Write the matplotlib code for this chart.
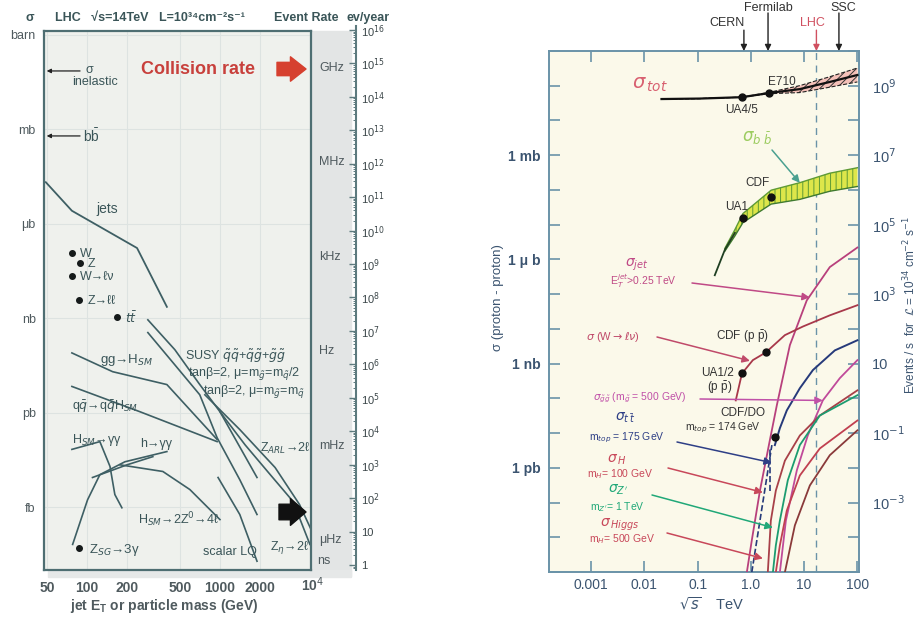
import numpy as np
import matplotlib
matplotlib.use("Agg")
import matplotlib.pyplot as plt
from matplotlib.patches import Rectangle
from matplotlib.ticker import FixedLocator, FixedFormatter, NullLocator, LogLocator, NullFormatter

plt.rcParams['font.family'] = ['Liberation Sans', 'DejaVu Sans']
plt.rcParams['mathtext.fontset'] = 'dejavusans'
plt.rcParams['hatch.linewidth'] = 0.7

W, H = 917, 618

# ---------------- left panel data (mass or jet Et in GeV, sigma in barn)
mass_ticks = [50, 100, 200, 500, 1000, 2000]
sigma_units = ['barn', 'mb', 'μb', 'nb', 'pb', 'fb']
sigma_unit_vals = [1, 1e-3, 1e-6, 1e-9, 1e-12, 1e-15]
rate_units = ['GHz', 'MHz', 'kHz', 'Hz', 'mHz', 'μHz']
rate_unit_vals = [1e9, 1e6, 1e3, 1, 1e-3, 1e-6]
year_exps = list(range(17))

sigma_inel = 0.072
sigma_bb_lhc = 6.2e-4

jets_m = [49, 77, 238, 399]
jets_s = [2.1e-5, 2.6e-6, 1.7e-7, 2.3e-9]

boson_names = ['W', 'Z', 'W→ℓν', 'Z→ℓℓ', r'$t\bar{t}$']
boson_m = [77, 88, 77, 87, 168]
boson_s = [1.2e-7, 5.8e-8, 2.2e-8, 3.9e-9, 1.1e-9]

susyA_m = [287, 458, 705, 1000, 1545, 2390, 3550, 4750]
susyA_s = [8.9e-10, 1.0e-10, 7.8e-12, 1.07e-12, 9.5e-14, 1.07e-14, 1.5e-15, 6.5e-17]
susyB_m = [287, 458, 705, 952, 1410, 1900]
susyB_s = [3.5e-10, 3.3e-11, 3.7e-12, 1.6e-13, 7.4e-15, 5.8e-16]
ggH_m = [77, 156, 399, 952]
ggH_s = [7.9e-11, 2.0e-11, 7.8e-12, 1.4e-13]
qqH_m = [77, 250, 952]
qqH_s = [6.8e-12, 1.07e-12, 1.2e-13]
zarl_m = [1000, 1900]
zarl_s = [1.07e-12, 8.7e-15]
zeta_m = [770, 1410, 2600, 3970, 4840]
zeta_s = [3.7e-12, 2.9e-13, 1.8e-14, 1.2e-15, 1.95e-16]
lq_m = [968, 1410, 1900]
lq_s = [8.7e-15, 5.8e-16, 1.9e-17]
hggSM_m = [77, 125, 149, 162, 183]
hggSM_s = [6.8e-14, 1.2e-13, 1.95e-14, 2.5e-15, 9.5e-16]
hggA_m = [78, 101, 125, 193, 399]
hggA_s = [6.5e-17, 1.7e-15, 1.07e-14, 2.75e-14, 5.8e-14]
hggB_m = [110, 200, 313]
hggB_s = [8.7e-15, 2.2e-14, 4.0e-14]
hzz_m = [177, 372, 594, 1000]
hzz_s = [2.2e-14, 1.35e-14, 3.6e-15, 4.0e-16]
zsg_m, zsg_s = 87, 5.1e-17

# ---------------- right panel data (sqrt(s) in TeV, sigma in barn)
rs_ticks = [1e-3, 1e-2, 1e-1, 1, 10, 100]
rs_labels = ['0.001', '0.01', '0.1', '1.0', '10', '100']
left_units = {-3: '1 mb', -6: '1 μ b', -9: '1 nb', -12: '1 pb'}
evt_ticks = [1e9, 1e7, 1e5, 1e3, 1e1, 1e-1, 1e-3]
evt_labels = ['10$^{9}$', '10$^{7}$', '10$^{5}$', '10$^{3}$', '10', '10$^{-1}$', '10$^{-3}$']

accel_names = ['CERN', 'Fermilab', 'LHC', 'SSC']
accel_rs = [0.74, 2.1, 17, 45]

rs_tot = [0.021, 0.11, 0.68, 2.2, 8.3, 30, 100]
sig_tot = [0.0414, 0.0427, 0.0468, 0.0617, 0.080, 0.128, 0.204]
tot_hw = [0, 0, 0, 0.02, 0.10, 0.15, 0.20]      # band half width, decades
ua45 = (0.68, 0.0468)
e710 = (2.2, 0.0617)

rs_bb = [0.21, 0.325, 0.5, 0.71, 2.4, 8.3, 30, 100]
sig_bb = [3.5e-7, 1.9e-6, 5.8e-6, 1.55e-5, 6.2e-5, 9.3e-5, 1.66e-4, 2.34e-4]
bb_hw = [0, 0.04, 0.09, 0.13, 0.20, 0.24, 0.26, 0.27]
ua1_bb = (0.71, 1.55e-5)
cdf_bb = (2.4, 6.2e-5)

rs_jet = [0.84, 1.04, 1.48, 2.27, 3.07, 5.4, 11.2, 30.3, 100]
sig_jet = [9.8e-16, 8.1e-15, 2.2e-13, 6.2e-12, 6.3e-11, 3.4e-9, 6.6e-8, 6.0e-7, 2.2e-6]

rs_w = [0.52, 0.68, 1.09, 1.91, 4.35, 9.5, 30.3, 100]
sig_w = [8.7e-11, 5.2e-10, 1.26e-9, 2.1e-9, 6.6e-9, 1.17e-8, 2.45e-8, 4.8e-8]
ua12_w = (0.68, 5.2e-10)
cdf_w = (1.91, 2.1e-9)

rs_tt = [2.82, 3.5, 4.73, 6.1, 8.3, 14.6, 37.7, 100]
sig_tt = [4.5e-12, 1.38e-11, 4.5e-11, 8.7e-11, 1.95e-10, 6.5e-10, 2.4e-9, 4.7e-9]
rs_tt_edge = [1.04, 2.48]
sig_tt_edge = [9.8e-16, 4.5e-12]
rs_tt_thr = [2.3, 2.3]
sig_tt_thr = [2.2e-13, 3.9e-12]
cdfd0_tt = (2.82, 7.6e-12)

rs_gg = [3.5, 4.54, 7.3, 11.7, 22.4, 46.7, 100]
sig_gg = [9.8e-16, 3.0e-14, 8.5e-13, 8.5e-12, 8.7e-11, 3.8e-10, 1.26e-9]
rs_h100 = [2.08, 2.37, 2.94, 4.35, 8.3, 19.7, 100]
sig_h100 = [9.8e-16, 3.0e-14, 2.2e-13, 1.6e-12, 8.5e-12, 3.2e-11, 1.7e-10]
rs_zp = [2.59, 2.94, 3.5, 4.94, 8.3, 19.7, 100]
sig_zp = [9.8e-16, 5.8e-15, 3.0e-14, 4.4e-13, 4.5e-12, 3.2e-11, 1.23e-10]
rs_h500 = [2.94, 3.5, 4.73, 8.3, 19.7, 100]
sig_h500 = [9.8e-16, 5.8e-15, 5.9e-14, 6.0e-13, 3.6e-12, 2.3e-11]
rs_x = [4.35, 6.7, 12.8, 30.3, 100]
sig_x = [9.8e-16, 2.2e-14, 3.1e-13, 2.3e-12, 1.2e-11]


def ftext(px, py, s, **kw):
    kw.setdefault('ha', 'center')
    kw.setdefault('va', 'center')
    fig.text(px / W, 1 - py / H, s, **kw)


def band(y, hw):
    y = np.log10(y)
    hw = np.asarray(hw)
    return 10 ** (y - hw), 10 ** (y + hw)


fig = plt.figure(figsize=(W / 100, H / 100), dpi=100)
fig.patch.set_facecolor('white')

# ================= LEFT PANEL =================
lc = '#3e5f64'
tc = '#3a5558'
ax1 = fig.add_axes([44 / W, 1 - 570 / H, 267 / W, 539 / H])
ax1.set_xscale('log')
ax1.set_yscale('log')
ax1.set_xlim(47.5, 4840)
ax1.set_ylim(1e-17, 10 ** 0.127)
ax1.set_facecolor('#eff1ed')
for sp in ax1.spines.values():
    sp.set_color('#4e6e72')
    sp.set_linewidth(1.6)
ax1.xaxis.set_major_locator(FixedLocator(mass_ticks))
ax1.xaxis.set_major_formatter(FixedFormatter([str(m) for m in mass_ticks]))
ax1.xaxis.set_minor_locator(NullLocator())
ax1.yaxis.set_major_locator(FixedLocator(sigma_unit_vals))
ax1.yaxis.set_major_formatter(FixedFormatter(sigma_units))
ax1.yaxis.set_minor_locator(NullLocator())
ax1.tick_params(axis='x', length=0, pad=8, labelsize=10, labelcolor='#4f5a5e')
ax1.tick_params(axis='y', length=0, pad=6, labelsize=9, labelcolor='#4f5a5e')
for t in ax1.get_xticklabels():
    t.set_fontweight('bold')
ax1.grid(True, color='#dde3e1', lw=0.8)

sec1 = ax1.secondary_yaxis('right', functions=(lambda s: s * 1e10, lambda r: r / 1e10))
sec1.yaxis.set_major_locator(FixedLocator(rate_unit_vals))
sec1.yaxis.set_major_formatter(FixedFormatter(rate_units))
sec1.yaxis.set_minor_locator(NullLocator())
sec1.tick_params(length=0, pad=6, labelsize=9, labelcolor='#4f5a5e')
sec1.spines['right'].set_visible(False)

ax1.plot(jets_m, jets_s, color=lc, lw=1.3)
for m, s in [(susyA_m, susyA_s), (susyB_m, susyB_s), (ggH_m, ggH_s), (qqH_m, qqH_s),
             (zarl_m, zarl_s), (zeta_m, zeta_s), (lq_m, lq_s), (hggSM_m, hggSM_s),
             (hggA_m, hggA_s), (hggB_m, hggB_s), (hzz_m, hzz_s)]:
    ax1.plot(m, s, color=lc, lw=1.2)
ax1.plot(boson_m, boson_s, 'o', color='#151a1a', ms=4)
for name, m, s in zip(boson_names, boson_m, boson_s):
    ax1.annotate(name, (m, s), xytext=(6, -1), textcoords='offset points',
                 va='center', fontsize=9, color=tc)
ax1.plot([zsg_m], [zsg_s], 'o', color='#151a1a', ms=4)

arr = dict(arrowstyle='-|>', color='#222', lw=0.9, mutation_scale=6, shrinkA=0, shrinkB=0)
ax1.annotate('', xy=(0.01, sigma_inel), xycoords=('axes fraction', 'data'),
             xytext=(0.135, sigma_inel), textcoords=('axes fraction', 'data'), arrowprops=arr)
ax1.annotate('', xy=(0.01, sigma_bb_lhc), xycoords=('axes fraction', 'data'),
             xytext=(0.135, sigma_bb_lhc), textcoords=('axes fraction', 'data'), arrowprops=arr)

fig.add_artist(Rectangle((311 / W, 1 - 576 / H), 40 / W, 545 / H, transform=fig.transFigure,
                         color='#e3e5e5', zorder=-1))
fig.add_artist(Rectangle((48 / W, 1 - 577 / H), 303 / W, 7 / H, transform=fig.transFigure,
                         color='#e6e8e8', zorder=-1))

# event/year ruler
axr = fig.add_axes([356 / W, 1 - 570 / H, 0.0005, 544 / H])
axr.set_yscale('log')
axr.set_ylim(10 ** -0.15, 10 ** 16.12)
axr.set_facecolor('none')
axr.set_xticks([])
for k in ['top', 'bottom', 'left']:
    axr.spines[k].set_visible(False)
axr.spines['right'].set_color('#5d7a7e')
axr.spines['right'].set_linewidth(1.5)
axr.yaxis.set_major_locator(FixedLocator([10.0 ** k for k in year_exps]))
axr.yaxis.set_major_formatter(FixedFormatter(['1', '10'] + ['10$^{%d}$' % k for k in year_exps[2:]]))
axr.yaxis.set_minor_locator(LogLocator(base=10, subs=np.arange(2, 10), numticks=200))
axr.yaxis.set_minor_formatter(NullFormatter())
axr.tick_params(axis='y', which='major', direction='in', left=False, right=True, labelleft=False,
                labelright=True, length=5, width=1, color='#5d7a7e', labelsize=8, pad=3,
                labelcolor='#3a4548')
axr.tick_params(axis='y', which='minor', direction='in', left=False, right=True, length=2.5,
                width=0.7, color='#5d7a7e')

ftext(30, 18, 'σ', fontsize=9, fontweight='bold', color=tc)
ftext(55, 18, 'LHC   √s=14TeV   L=10³⁴cm⁻²s⁻¹', ha='left', fontsize=9, fontweight='bold', color=tc)
ftext(306, 18, 'Event Rate', fontsize=9, fontweight='bold', color=tc)
ftext(368, 18, 'ev/year', fontsize=9, fontweight='bold', color=tc)
ftext(198, 70, 'Collision rate', fontsize=13, fontweight='bold', color='#c8403c')
ax1.annotate('', xy=(306, H - 69), xycoords='figure pixels', xytext=(277, H - 69),
             textcoords='figure pixels',
             arrowprops=dict(arrowstyle='simple,head_length=0.7,head_width=1.1,tail_width=0.6',
                             color='#d6402f', mutation_scale=16, shrinkA=0, shrinkB=0))
ax1.annotate('', xy=(306, H - 512), xycoords='figure pixels', xytext=(279, H - 512),
             textcoords='figure pixels',
             arrowprops=dict(arrowstyle='simple,head_length=0.7,head_width=1.2,tail_width=0.7',
                             color='#111', mutation_scale=16, shrinkA=0, shrinkB=0))
ftext(85, 70, 'σ', ha='left', fontsize=9, color=tc)
ftext(72, 82, 'inelastic', ha='left', fontsize=9, color=tc)
ftext(83, 136, r'$\mathregular{b\bar{b}}$', ha='left', fontsize=10, color=tc)
ftext(107, 209, 'jets', fontsize=10, color=tc)
ftext(100, 360, r'gg→H$_{SM}$', ha='left', fontsize=9.5, color=tc)
ftext(185, 356, r'SUSY $\tilde{q}\tilde{q}$+$\tilde{q}\tilde{g}$+$\tilde{g}\tilde{g}$', ha='left',
      fontsize=9, color=tc)
ftext(188, 373, r'tanβ=2, μ=m$_{\tilde{g}}$=m$_{\tilde{q}}$/2', ha='left', fontsize=9, color=tc)
ftext(203, 392, r'tanβ=2, μ=m$_{\tilde{g}}$=m$_{\tilde{q}}$', ha='left', fontsize=9, color=tc)
ftext(72, 407, r'q$\bar{q}$→q$\bar{q}$H$_{SM}$', ha='left', fontsize=9, color=tc)
ftext(72, 440, r'H$_{SM}$→γγ', ha='left', fontsize=9, color=tc)
ftext(140, 444, 'h→γγ', ha='left', fontsize=9, color=tc)
ftext(260, 448, r'Z$_{ARL}$→2ℓ', ha='left', fontsize=9, color=tc)
ftext(138, 520, r'H$_{SM}$→2Z$^0$→4ℓ', ha='left', fontsize=9, color=tc)
ftext(89, 550, r'Z$_{SG}$→3γ', ha='left', fontsize=9.5, color=tc)
ftext(203, 552, 'scalar LQ', ha='left', fontsize=9, color=tc)
ftext(270, 548, r'Z$_{η}$→2ℓ', ha='left', fontsize=9, color=tc)
ftext(317, 561, 'ns', ha='left', fontsize=9, color='#4f5a5e')
ftext(313, 585, '10$^4$', fontsize=10, fontweight='bold', color='#4f5a5e')
ftext(164, 606, r'jet E$_\mathregular{T}$ or particle mass (GeV)', fontsize=10, fontweight='bold',
      color='#4f5a5e')

# ================= RIGHT PANEL =================
bc = '#6a93a8'
rc = '#3b5470'
ax2 = fig.add_axes([549 / W, 1 - 572 / H, 310 / W, 521 / H])
ax2.set_xscale('log')
ax2.set_yscale('log')
ax2.set_xlim(10 ** -3.79, 10 ** 2.03)
ax2.set_ylim(1e-15, 1)
ax2.set_facecolor('#fbf9ea')
for sp in ax2.spines.values():
    sp.set_color(bc)
    sp.set_linewidth(1.4)
ax2.xaxis.set_major_locator(FixedLocator(rs_ticks))
ax2.xaxis.set_major_formatter(FixedFormatter(rs_labels))
ax2.xaxis.set_minor_locator(NullLocator())
ydec = list(range(-15, 1))
ax2.yaxis.set_major_locator(FixedLocator([10.0 ** k for k in ydec]))
ax2.yaxis.set_major_formatter(FixedFormatter([left_units.get(k, '') for k in ydec]))
ax2.yaxis.set_minor_locator(NullLocator())
ax2.tick_params(axis='x', direction='in', top=True, length=8, width=1.2, color=bc, labelsize=10,
                pad=4, labelcolor=rc)
ax2.tick_params(axis='y', direction='in', right=True, length=8, width=1.2, color=bc, labelsize=10,
                pad=6, labelcolor=rc)
for t in ax2.get_yticklabels():
    t.set_fontweight('bold')

sec2 = ax2.secondary_yaxis('right', functions=(lambda s: s * 1e10, lambda e: e / 1e10))
sec2.yaxis.set_major_locator(FixedLocator(evt_ticks))
sec2.yaxis.set_major_formatter(FixedFormatter(evt_labels))
sec2.yaxis.set_minor_locator(NullLocator())
sec2.tick_params(length=0, pad=9, labelsize=10.5, labelcolor=rc)
sec2.spines['right'].set_visible(False)

ax2.axvline(accel_rs[2], color=bc, lw=1, ls=(0, (5, 4)), zorder=1)

# sigma_tot
lo, hi = band(sig_tot, tot_hw)
ax2.fill_between(rs_tot, lo, hi, facecolor='#f4c0b8', edgecolor='#333', hatch='////', lw=0, zorder=2)
ax2.plot(rs_tot, lo, color='#222', lw=0.8, ls='--', zorder=3)
ax2.plot(rs_tot, hi, color='#222', lw=0.8, ls='--', zorder=3)
ax2.plot(rs_tot, sig_tot, color='#111', lw=1.6, zorder=3)
ax2.plot(*zip(ua45, e710), 'o', color='#111', ms=5, zorder=4)

# sigma_bb
lo, hi = band(sig_bb, bb_hw)
ax2.fill_between(rs_bb[1:], lo[1:], hi[1:], facecolor='#dde64a', edgecolor='#5e9a35', hatch='|||',
                 lw=0, zorder=2)
ax2.plot(rs_bb[1:], lo[1:], color='#3f7a30', lw=1, zorder=3)
ax2.plot(rs_bb[1:], hi[1:], color='#5e9a35', lw=1, zorder=3)
ax2.plot(rs_bb[:3], sig_bb[:3], color='#1f3f22', lw=1.3, zorder=3)
ax2.plot(*zip(ua1_bb, cdf_bb), 'o', color='#111', ms=5, zorder=4)

ax2.plot(rs_jet, sig_jet, color='#b8407c', lw=1.3, zorder=3)
ax2.plot(rs_w, sig_w, color='#a8384a', lw=1.3, zorder=3)
ax2.plot(*zip(ua12_w, cdf_w), 'o', color='#111', ms=5, zorder=4)
ax2.plot(rs_tt, sig_tt, color='#263a7a', lw=1.4, zorder=3)
ax2.plot(rs_tt_edge, sig_tt_edge, color='#263a7a', lw=1.2, ls='--', zorder=3)
ax2.plot(rs_tt_thr, sig_tt_thr, color='#263a7a', lw=1.2, ls='--', zorder=3)
ax2.plot([cdfd0_tt[0]], [cdfd0_tt[1]], 'o', color='#111', ms=5, zorder=4)
ax2.plot(rs_gg, sig_gg, color='#c04a9a', lw=1.3, zorder=3)
ax2.plot(rs_h100, sig_h100, color='#a84048', lw=1.3, zorder=3)
ax2.plot(rs_zp, sig_zp, color='#1c9c70', lw=1.3, zorder=3)
ax2.plot(rs_h500, sig_h500, color='#c04050', lw=1.3, zorder=3)
ax2.plot(rs_x, sig_x, color='#8a3a3a', lw=1.3, zorder=3)

# accelerator arrows on top
for name, e in zip(accel_names, accel_rs):
    col = '#d05060' if name == 'LHC' else '#222'
    top = 1.04 if name in ('CERN', 'LHC') else 1.073
    ax2.annotate('', xy=(e, 1.0), xycoords=('data', 'axes fraction'), xytext=(e, top),
                 textcoords=('data', 'axes fraction'), annotation_clip=False,
                 arrowprops=dict(arrowstyle='-|>', color=col, lw=1, mutation_scale=9,
                                 shrinkA=0, shrinkB=0))
ftext(727, 23, 'CERN', fontsize=9, color='#333')
ftext(768, 8, 'Fermilab', fontsize=9, color='#333')
ftext(812, 23, 'LHC', fontsize=9, color='#d05060')
ftext(843, 8, 'SSC', fontsize=9, color='#333')

# labels and pointer arrows
ftext(650, 85, r'$\sigma_{\,tot}$', fontsize=14, color='#d86070')
ftext(782, 82, 'E710', fontsize=8.5, color='#333')
ftext(742, 110, 'UA4/5', fontsize=8.5, color='#333')
ftext(757, 137, r'$\sigma_{b\;\bar{b}}$', fontsize=12, color='#9ccc60')
ftext(757, 183, 'CDF', fontsize=8.5, color='#333')
ftext(737, 207, 'UA1', fontsize=8.5, color='#333')
ftext(637, 265, r'$\sigma_{jet}$', fontsize=10, color='#c04a86')
ftext(643, 281, r'E$_T^{jet}$>0.25 TeV', fontsize=7.5, color='#c04a86')
ftext(613, 337, r'$\sigma$ (W$\rightarrow\ell\nu$)', fontsize=8, color='#c04a6a')
ftext(742, 337, r'CDF (p $\bar{\mathregular{p}}$)', fontsize=8.5, color='#333')
ftext(718, 373, 'UA1/2', fontsize=8.5, color='#333')
ftext(720, 388, r'(p $\bar{\mathregular{p}}$)', fontsize=8.5, color='#333')
ftext(640, 398, r'$\sigma_{\tilde{g}\tilde{g}}$ (m$_{\tilde{g}}$ = 500 GeV)', fontsize=7.5, color='#c050a8')
ftext(625, 418, r'$\sigma_{t\,\bar{t}}$', fontsize=10, color='#2e3f86')
ftext(627, 438, r'm$_{top}$ = 175 GeV', fontsize=7.5, color='#2e3f86')
ftext(743, 413, 'CDF/DO', fontsize=8.5, color='#333')
ftext(723, 428, r'm$_{top}$ = 174 GeV', fontsize=7.5, color='#333')
ftext(617, 460, r'$\sigma_{\,H}$', fontsize=10, color='#c8485a')
ftext(620, 474, r'm$_H$= 100 GeV', fontsize=7.5, color='#c8485a')
ftext(618, 490, r"$\sigma_{Z'}$", fontsize=10, color='#20a878')
ftext(617, 507, r"m$_{Z'}$= 1 TeV", fontsize=7.5, color='#20a878')
ftext(620, 525, r'$\sigma_{\,Higgs}$', fontsize=10, color='#c8485a')
ftext(622, 539, r'm$_H$= 500 GeV', fontsize=7.5, color='#c8485a')

pointers = [((772, 150), (8.3, 1.6e-4), '#4aa090'),
            ((692, 283), (12.8, 8.0e-8), '#c04a86'),
            ((657, 337), (0.96, 1.2e-9), '#c04a6a'),
            ((700, 399), (22.4, 8.7e-11), '#c050a8'),
            ((677, 442), (2.48, 1.4e-12), '#2e3f86'),
            ((668, 468), (1.68, 1.95e-13), '#c8485a'),
            ((652, 495), (2.59, 1.9e-14), '#20a878'),
            ((667, 533), (1.68, 2.45e-15), '#c8485a')]
for (px, py), tgt, col in pointers:
    ax2.annotate('', xy=tgt, xycoords='data', xytext=(px, H - py), textcoords='figure pixels',
                 arrowprops=dict(arrowstyle='-|>', color=col, lw=1.1, mutation_scale=11,
                                 shrinkA=0, shrinkB=0), zorder=5)

ftext(498, 298, 'σ (proton - proton)', rotation=90, fontsize=9.5, color=rc)
ftext(910, 305, r'Events / s  for  $\mathcal{L}$ = 10$^{34}$ cm$^{-2}$ s$^{-1}$', rotation=90,
      fontsize=8.5, color=rc)
ftext(712, 604, r'$\sqrt{s}$    TeV', fontsize=10.5, color=rc)

fig.savefig('out.png', dpi=100)
